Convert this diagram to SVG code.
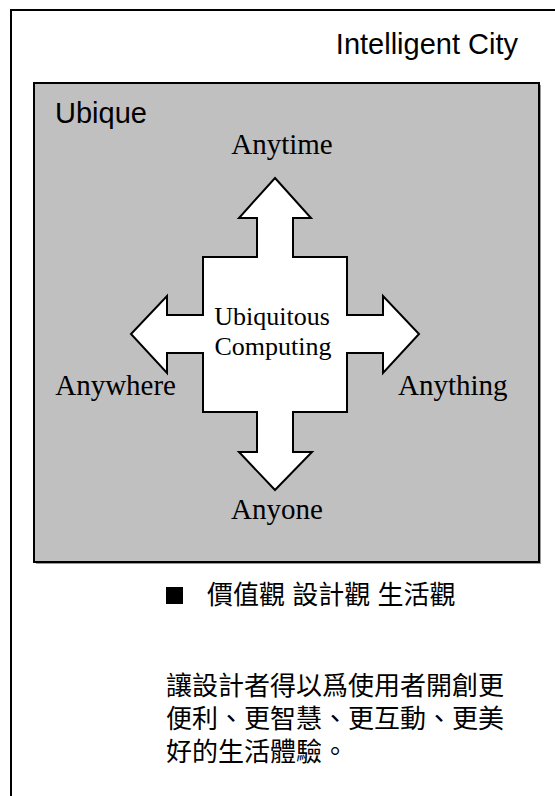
<svg xmlns="http://www.w3.org/2000/svg" width="555" height="796" viewBox="0 0 555 796">
<style>
.sans{font-family:"Liberation Sans",Arial,sans-serif;fill:#000}
.serif{font-family:"Liberation Serif","Times New Roman",serif;fill:#000}
.cjk{font-family:"Liberation Sans","Noto Sans CJK TC",sans-serif;fill:#000;font-size:26px}
</style>
<rect width="555" height="796" fill="#fff"/>
<g id="city">
<rect x="11" y="10" width="620" height="820" fill="none" stroke="#000" stroke-width="2"/>
<text class="sans" x="518" y="54" font-size="29" text-anchor="end">Intelligent City</text>
</g>
<g id="ubique">
<rect x="36" y="85" width="505" height="479" fill="#999"/>
<rect x="34" y="83" width="505" height="479" fill="#C0C0C0" stroke="#000" stroke-width="2"/>
<text class="sans" x="55" y="123" font-size="29">Ubique</text>
</g>
<g id="ubiquitous-computing">
<polygon points="275,178 311,218 293,218 293,257 347,257 347,315 383,315 383,296 419,334 383,373 383,353 347,353 347,412 293,412 293,452 312,452 275,490 239,452 257,452 257,412 203,412 203,353 167,353 167,373 131,334 167,296 167,315 203,315 203,257 257,257 257,218 239,218" fill="#fff" stroke="#000" stroke-width="2" stroke-linejoin="miter"/>
<text class="serif" x="272" y="325" font-size="26" text-anchor="middle">Ubiquitous</text>
<text class="serif" x="273" y="355" font-size="26" text-anchor="middle">Computing</text>
</g>
<g id="anytime"><text class="serif" x="282" y="154" font-size="29" text-anchor="middle">Anytime</text></g>
<g id="anyone"><text class="serif" x="277" y="519" font-size="29" text-anchor="middle">Anyone</text></g>
<g id="anywhere"><text class="serif" x="176" y="395" font-size="29" text-anchor="end">Anywhere</text></g>
<g id="anything"><text class="serif" x="398" y="395" font-size="29">Anything</text></g>
<g id="connectors"></g>
<g id="values">
<rect x="166" y="587" width="17" height="17" fill="#000"/>
<text class="cjk" x="207" y="604">價值觀 設計觀 生活觀</text>
</g>
<g id="description">
<text class="cjk" x="166" y="695">讓設計者得以爲使用者開創更</text>
<text class="cjk" x="166" y="728">便利、更智慧、更互動、更美</text>
<text class="cjk" x="166" y="761">好的生活體驗。</text>
</g>
</svg>
